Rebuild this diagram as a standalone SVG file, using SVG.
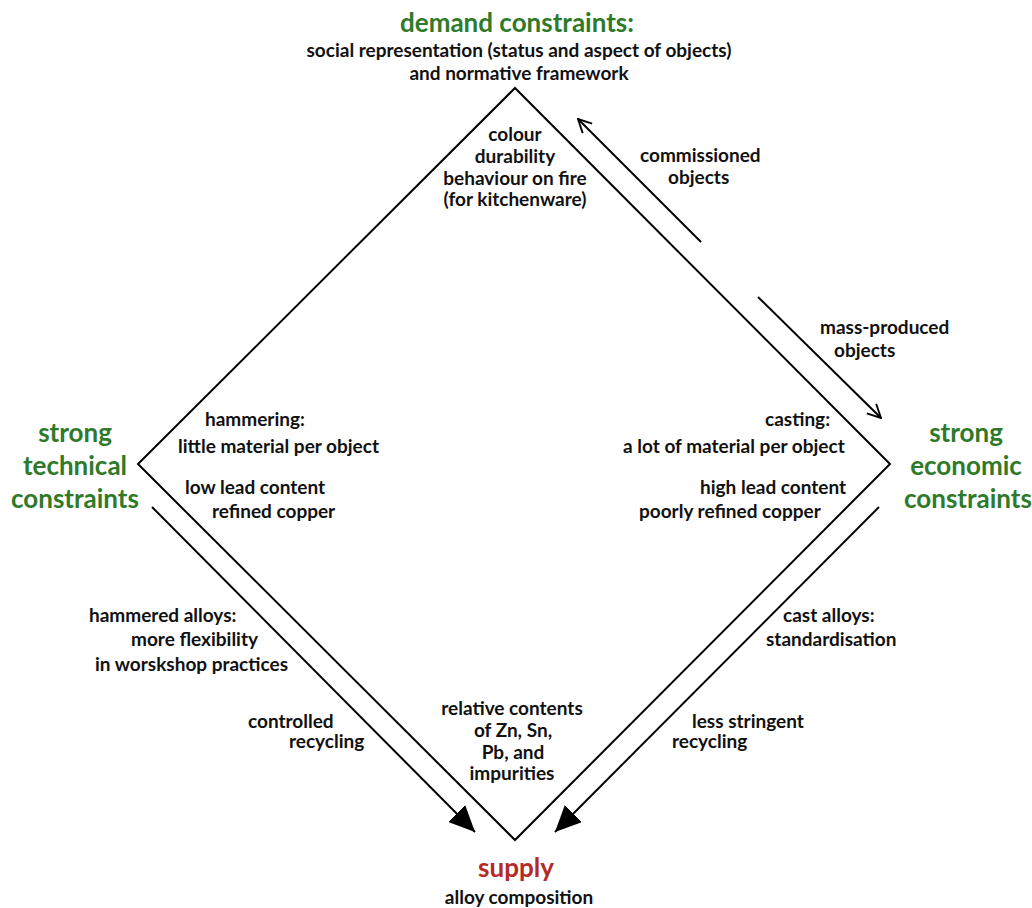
<svg xmlns="http://www.w3.org/2000/svg" width="1032" height="908" viewBox="0 0 1032 908">
<defs>
<style>
text{font-family:Lato,"Open Sans","Liberation Sans",sans-serif;font-weight:700;fill:#111;font-size:19px}
.g{fill:#2f7a2a;font-size:26px}
.r{fill:#b52a25;font-size:26px}
.m{text-anchor:middle}
.ln{stroke:#000;stroke-width:2;fill:none}
</style>
<marker id="open" viewBox="0 0 12 12" refX="11" refY="6" markerWidth="16" markerHeight="16" markerUnits="userSpaceOnUse" orient="auto">
<path d="M1,1 L11,6 L1,11" fill="none" stroke="#000" stroke-width="1.4"/>
</marker>
<marker id="fill" viewBox="0 0 10 10" refX="10" refY="5" markerWidth="26" markerHeight="24" markerUnits="userSpaceOnUse" orient="auto" preserveAspectRatio="none">
<path d="M0,0 L10,5 L0,10 z" fill="#000"/>
</marker>
</defs>
<rect width="1032" height="908" fill="#fff"/>

<g id="diamond">
<polygon class="ln" points="515,88 890,464 515,840 138,464"/>
</g>

<g id="connectors">
<line class="ln" x1="701" y1="242" x2="578" y2="119" marker-end="url(#open)"/>
<line class="ln" x1="758" y1="297" x2="881" y2="418" marker-end="url(#open)"/>
<line class="ln" x1="152" y1="507" x2="475" y2="832" marker-end="url(#fill)"/>
<line class="ln" x1="879" y1="507" x2="555" y2="832" marker-end="url(#fill)"/>
</g>

<g id="demand">
<text class="g m" x="517" y="32">demand constraints:</text>
<text class="m" x="519" y="57">social representation (status and aspect of objects)</text>
<text class="m" x="519" y="80">and normative framework</text>
</g>

<g id="demand-criteria">
<text class="m" x="515" y="141">colour</text>
<text class="m" x="515" y="163">durability</text>
<text class="m" x="515" y="185">behaviour on fire</text>
<text class="m" x="515" y="206">(for kitchenware)</text>
</g>

<g id="commissioned">
<text x="640" y="162">commissioned</text>
<text x="668" y="184">objects</text>
</g>

<g id="mass-produced">
<text x="820" y="334">mass-produced</text>
<text x="834" y="357">objects</text>
</g>

<g id="technical">
<text class="g m" x="75" y="442">strong</text>
<text class="g m" x="75" y="475">technical</text>
<text class="g m" x="75" y="508">constraints</text>
</g>

<g id="economic">
<text class="g m" x="966" y="442">strong</text>
<text class="g m" x="966" y="475">economic</text>
<text class="g m" x="968" y="508">constraints</text>
</g>

<g id="hammering">
<text x="205" y="426">hammering:</text>
<text x="178" y="453">little material per object</text>
<text x="185" y="494">low lead content</text>
<text x="212" y="518">refined copper</text>
</g>

<g id="casting">
<text x="765" y="426">casting:</text>
<text x="623" y="453">a lot of material per object</text>
<text x="700" y="494">high lead content</text>
<text x="639" y="518">poorly refined copper</text>
</g>

<g id="hammered-alloys">
<text x="89" y="622">hammered alloys:</text>
<text x="131" y="646">more flexibility</text>
<text x="95" y="671">in worskshop practices</text>
<text x="248" y="728">controlled</text>
<text x="289" y="748">recycling</text>
</g>

<g id="cast-alloys">
<text x="783" y="622">cast alloys:</text>
<text x="766" y="646">standardisation</text>
<text x="692" y="728">less stringent</text>
<text x="672" y="748">recycling</text>
</g>

<g id="supply-criteria">
<text class="m" x="512" y="715">relative contents</text>
<text class="m" x="513" y="737">of Zn, Sn,</text>
<text class="m" x="513" y="759">Pb, and</text>
<text class="m" x="512" y="780">impurities</text>
</g>

<g id="supply">
<text class="r m" x="516" y="877">supply</text>
<text class="m" x="519" y="904">alloy composition</text>
</g>
</svg>
